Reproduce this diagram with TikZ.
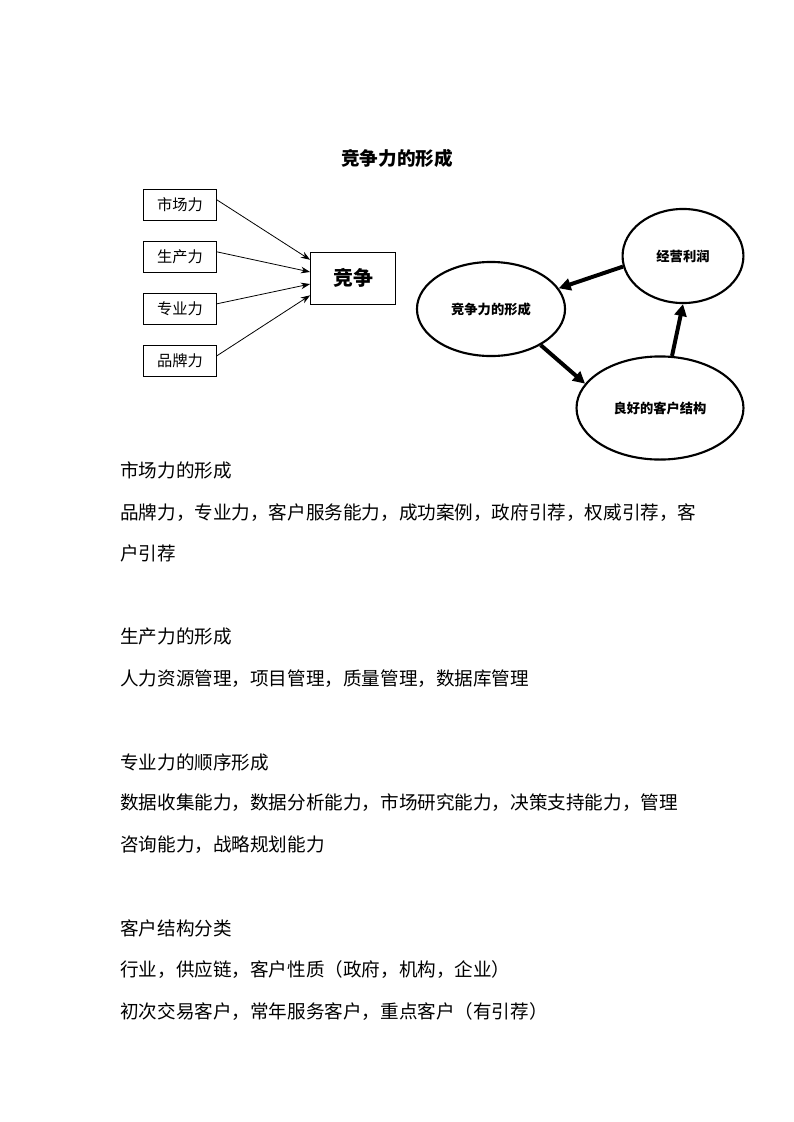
\documentclass[tikz,border=0pt]{standalone}
\usepackage{fontspec}
\setmainfont{Noto Sans CJK SC}
\usepackage{tikz}
\usetikzlibrary{arrows.meta, shapes.geometric}

\tikzset{
	forcebox/.style={draw, line width=0.6pt, minimum width=1.93cm, minimum height=0.82cm, inner sep=0pt, font=\fontsize{11.5}{13}\selectfont},
	cycleell/.style={draw, ellipse, line width=1.6pt, inner sep=0pt, font=\bfseries\fontsize{10}{12}\selectfont},
	thinarr/.style={line width=0.6pt, -{Stealth[length=7pt,width=5pt]}},
	thickarr/.style={line width=3pt, -{Triangle[length=9pt,width=9pt]}},
	bodytext/.style={anchor=west, inner sep=0pt, font=\fontsize{14}{16}\selectfont}
}

\begin{document}
\begin{tikzpicture}[x=0.02648cm, y=-0.02648cm]
	\useasboundingbox (0,0) rectangle (793,1122);
	\node[font=\bfseries\fontsize{14}{16}\selectfont] (title) at (397,158) {竞争力的形成};
	\node[forcebox] (sc) at (180,205) {市场力};
	\node[forcebox] (scl) at (180,257) {生产力};
	\node[forcebox] (zy) at (180,309) {专业力};
	\node[forcebox] (pp) at (180,361) {品牌力};
	\node[draw, line width=0.6pt, minimum width=2.25cm, minimum height=1.38cm, font=\bfseries\fontsize{15}{17}\selectfont] (jz) at (353,278) {竞争};
	\draw[thinarr] (sc.8) -- (jz.157);
	\draw[thinarr] (scl.8) -- (jz.172);
	\draw[thinarr] (zy.8) -- (jz.188);
	\draw[thinarr] (pp.8) -- (jz.202);
	\node[cycleell, minimum width=3.92cm, minimum height=2.49cm] (xc) at (491,309) {竞争力的形成};
	\node[cycleell, minimum width=3.2cm, minimum height=2.49cm] (jl) at (683,256) {经营利润};
	\node[cycleell, minimum width=4.42cm, minimum height=2.73cm] (lh) at (660,408) {良好的客户结构};
	\draw[thickarr] (jl.190) -- (xc.17);
	\draw[thickarr] (xc.-36) -- (lh.162);
	\draw[thickarr] (lh.77) -- (jl.-90);
	\node[bodytext] (t1) at (120,470) {市场力的形成};
	\node[bodytext] (t2) at (120,513) {品牌力，专业力，客户服务能力，成功案例，政府引荐，权威引荐，客};
	\node[bodytext] (t3) at (120,553) {户引荐};
	\node[bodytext] (t4) at (120,636) {生产力的形成};
	\node[bodytext] (t5) at (120,679) {人力资源管理，项目管理，质量管理，数据库管理};
	\node[bodytext] (t6) at (120,762) {专业力的顺序形成};
	\node[bodytext] (t7) at (120,803) {数据收集能力，数据分析能力，市场研究能力，决策支持能力，管理};
	\node[bodytext] (t8) at (120,845) {咨询能力，战略规划能力};
	\node[bodytext] (t9) at (120,928) {客户结构分类};
	\node[bodytext] (t10) at (120,970) {行业，供应链，客户性质（政府，机构，企业）};
	\node[bodytext] (t11) at (120,1012) {初次交易客户，常年服务客户，重点客户（有引荐）};
\end{tikzpicture}
\end{document}
